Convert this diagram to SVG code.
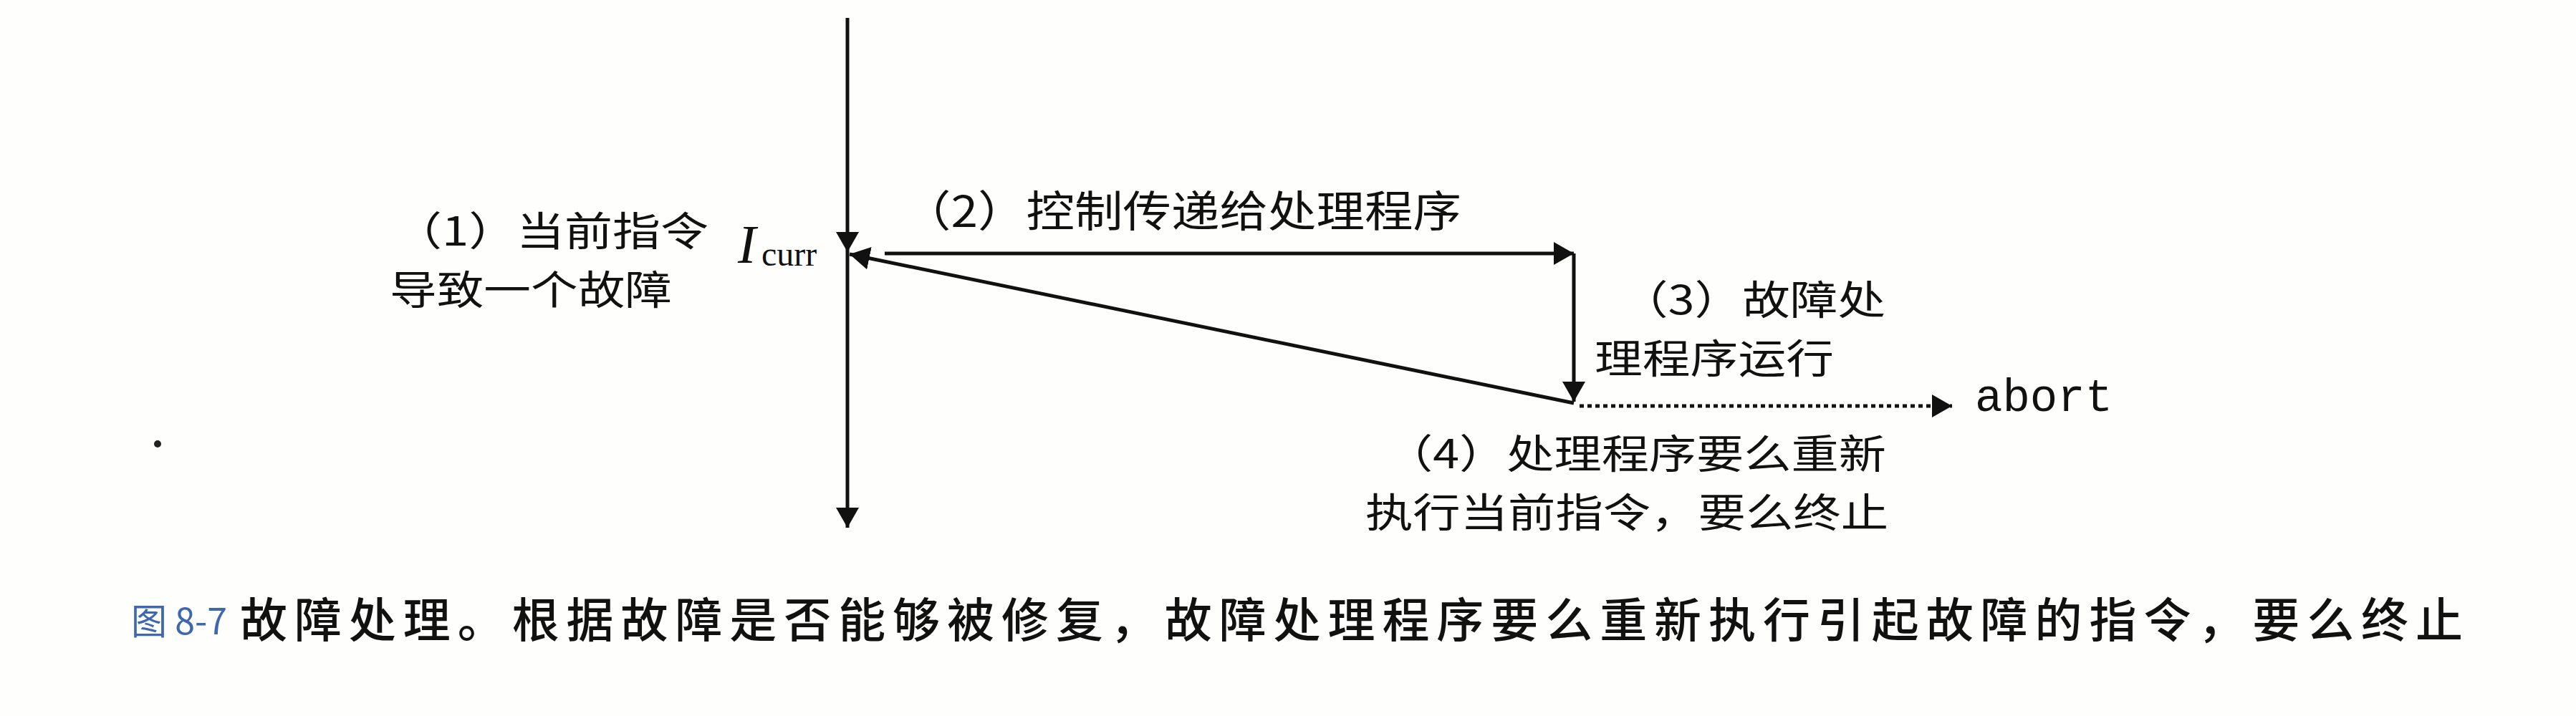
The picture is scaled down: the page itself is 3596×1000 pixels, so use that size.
<svg xmlns="http://www.w3.org/2000/svg" width="3596" height="1000" viewBox="0 0 3596 1000">
<style>
.cjk{font-family:"Noto Sans CJK SC","Noto Sans",sans-serif;fill:#111;font-weight:400;}
.lbl{font-size:56px;}
.cap{font-size:66px;font-weight:500;}
.fig{font-family:"Noto Sans CJK SC","Noto Sans",sans-serif;font-size:50px;fill:#3d68b0;}
.mono{font-family:"Liberation Mono",monospace;font-size:64px;fill:#111;}
.serif{font-family:"Liberation Serif",serif;fill:#111;}
.ln{stroke:#111;stroke-width:5;fill:none;}
.dot{stroke-dasharray:6 5;}
</style>
<defs>
<marker id="ah" markerUnits="userSpaceOnUse" markerWidth="30" markerHeight="32" refX="28" refY="16" orient="auto" viewBox="0 0 30 32">
<path d="M0,0 L28,16 L0,32 z" fill="#111"/>
</marker>
</defs>
<rect width="3596" height="1000" fill="#fefefc"/>
<circle cx="220" cy="620" r="5" fill="#222"/>
<g id="connectors">
<line class="ln" x1="1183" y1="25" x2="1183" y2="352" marker-end="url(#ah)"/>
<line class="ln" x1="1183" y1="352" x2="1183" y2="737" marker-end="url(#ah)"/>
<line class="ln" x1="1235" y1="354" x2="2197" y2="354" marker-end="url(#ah)"/>
<line class="ln" x1="2197" y1="354" x2="2197" y2="561" marker-end="url(#ah)"/>
<line class="ln" x1="2197" y1="563" x2="1186" y2="355" marker-end="url(#ah)"/>
<line class="ln dot" x1="2205" y1="567" x2="2725" y2="567" marker-end="url(#ah)"/>
</g>
<g id="node-icurr">
<text class="serif" x="1030" y="367" font-size="76" font-style="italic">I</text>
<text class="serif" x="1063" y="371" font-size="48">curr</text>
</g>
<g id="node-step1">
<text class="cjk lbl" x="550" y="343" textLength="439" lengthAdjust="spacingAndGlyphs">（1）当前指令</text>
<text class="cjk lbl" x="544" y="425" textLength="394" lengthAdjust="spacingAndGlyphs">导致一个故障</text>
</g>
<g id="node-step2">
<text class="cjk" font-size="60" x="1260" y="317" textLength="780" lengthAdjust="spacingAndGlyphs">（2）控制传递给处理程序</text>
</g>
<g id="node-step3">
<text class="cjk lbl" x="2262" y="439" textLength="370" lengthAdjust="spacingAndGlyphs">（3）故障处</text>
<text class="cjk lbl" x="2226" y="521" textLength="334" lengthAdjust="spacingAndGlyphs">理程序运行</text>
</g>
<g id="node-step4">
<text class="cjk lbl" x="1934" y="654" textLength="699" lengthAdjust="spacingAndGlyphs">（4）处理程序要么重新</text>
<text class="cjk lbl" x="1906" y="736" textLength="730" lengthAdjust="spacingAndGlyphs">执行当前指令，要么终止</text>
</g>
<g id="node-abort">
<text class="mono" x="2757" y="574">abort</text>
</g>
<g id="caption">
<text class="fig" x="183" y="886">图 8-7</text>
<text class="cjk cap" x="335" y="890" textLength="3103" lengthAdjust="spacing">故障处理。根据故障是否能够被修复，故障处理程序要么重新执行引起故障的指令，要么终止</text>
</g>
</svg>
